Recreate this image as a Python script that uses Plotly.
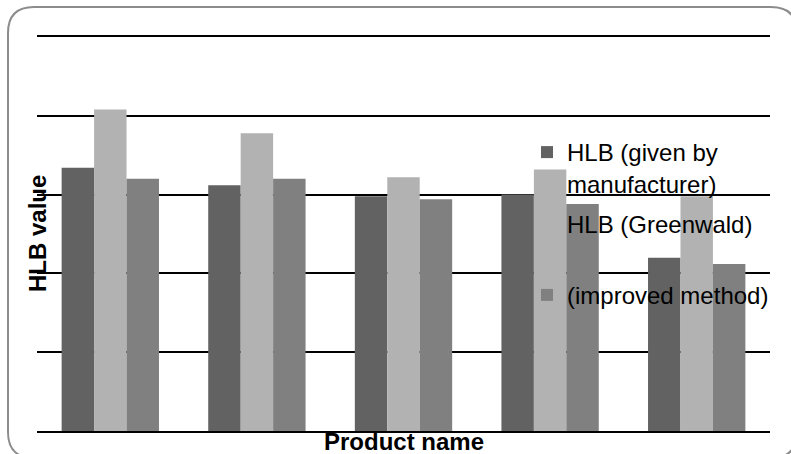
import plotly.graph_objects as go

# HLB values per product, three determination methods
products = ["Tween 20", "Tween 40", "Tween 60", "Tween 80", "Tween 85"]
hlb_manufacturer = [16.7, 15.6, 14.9, 15.0, 11.0]
hlb_greenwald = [20.4, 18.9, 16.1, 16.6, 14.9]
hlb_improved = [16.0, 16.0, 14.7, 14.4, 10.6]

series_names = ["HLB (given by<br>manufacturer)", "HLB (Greenwald)<br> ", "(improved method)"]
series_colors = ["#626262", "#b2b2b2", "#808080"]

W, H = 791, 454
ML, MR, MT, MB = 37, 21, 37, 23
PW, PH = W - ML - MR, H - MT - MB

fig = go.Figure()
for i, (name, vals, col) in enumerate(zip(series_names,
                                          [hlb_manufacturer, hlb_greenwald, hlb_improved],
                                          series_colors)):
    fig.add_trace(go.Bar(
        x=products, y=vals, name=name, legendgroup=f"g{i}",
        marker=dict(color=col, line=dict(width=0)),
    ))


def px_to_paper(px, py):
    return (px - ML) / PW, (H - MB - py) / PH


def rounded_box(x0, y0, x1, y1, r):
    # rounded frame around the chart, corners given in pixels
    def p(x, y):
        a, b = px_to_paper(x, y)
        return f"{a:.5f},{b:.5f}"
    return (f"M {p(x0 + r, y0)} L {p(x1 - r, y0)} Q {p(x1, y0)} {p(x1, y0 + r)} "
            f"L {p(x1, y1 - r)} Q {p(x1, y1)} {p(x1 - r, y1)} "
            f"L {p(x0 + r, y1)} Q {p(x0, y1)} {p(x0, y1 - r)} "
            f"L {p(x0, y0 + r)} Q {p(x0, y0)} {p(x0 + r, y0)} Z")


fig.add_shape(type="path", xref="paper", yref="paper",
              path=rounded_box(8, 7, 797, 458, 26),
              line=dict(color="#8c8c8c", width=2), layer="above")

fig.add_annotation(text="<b>HLB value</b>", xref="paper", yref="paper",
                   x=0, y=0.5, xanchor="center", yanchor="middle",
                   textangle=-90, showarrow=False,
                   font=dict(size=24, color="black"))
fig.add_annotation(text="<b>Product name</b>", xref="paper", yref="paper",
                   x=0.5, y=0, xanchor="center", yanchor="top", yshift=5,
                   showarrow=False, font=dict(size=24, color="black"))

fig.update_layout(
    width=W, height=H, autosize=False,
    margin=dict(l=ML, r=MR, t=MT, b=MB, pad=0),
    paper_bgcolor="white", plot_bgcolor="white",
    barmode="group", bargap=0.336, bargroupgap=0,
    font=dict(family="Arial, Liberation Sans, sans-serif", color="black"),
    legend=dict(x=(527 - ML) / PW, y=(H - MB - 130) / PH,
                xanchor="left", yanchor="top", valign="top",
                bgcolor="rgba(0,0,0,0)", borderwidth=0,
                font=dict(size=24, color="black"),
                tracegroupgap=6, itemwidth=30),
    xaxis=dict(showticklabels=False, showgrid=False, zeroline=False,
               showline=True, mirror=True, linecolor="black", linewidth=1.5,
               ticks=""),
    yaxis=dict(range=[0, 25], dtick=5, showticklabels=False, ticks="",
               showgrid=True, gridcolor="black", gridwidth=1.5,
               zeroline=False, showline=False),
)

fig.write_html("out.html")
